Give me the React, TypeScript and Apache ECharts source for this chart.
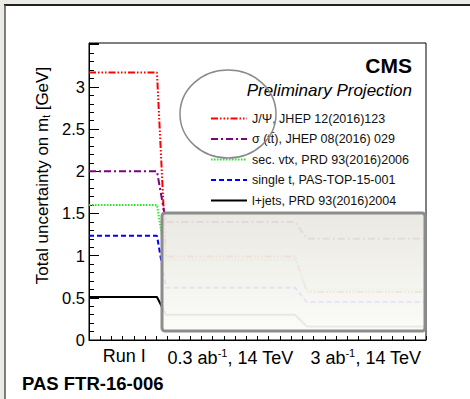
import React, { useEffect, useRef } from "react";
import * as echarts from "echarts";

const stageLabels = ["Run I", "0.3 ab^{-1}, 14 TeV", "3 ab^{-1}, 14 TeV"];
const seriesNames = [
  "J/Ψ, JHEP 12(2016)123",
  "σ (tt̄), JHEP 08(2016) 029",
  "sec. vtx, PRD 93(2016)2006",
  "single t, PAS-TOP-15-001",
  "l+jets, PRD 93(2016)2004",
];
const jpsi = [3.17, 0.99, 0.57];
const sigmaTT = [2.0, 1.4, 1.2];
const secVtx = [1.6, 0.95, 0.6];
const singleT = [1.235, 0.62, 0.45];
const lJets = [0.51, 0.3, 0.16];
const yTicks = [0, 0.5, 1, 1.5, 2, 2.5, 3];

const FONT = "Liberation Sans, Arial, Helvetica, sans-serif";
const STEP1 = [0.605, 0.685];
const STEP2 = [1.834, 1.94];
const colors = ["#ff0000", "#800080", "#22ee22", "#0000ff", "#000000"];
const dashes: any[] = [[7, 2, 1.5, 2, 1.5, 2, 1.5, 2], [7, 3, 2, 3], [1.5, 1.5], [5, 3], "solid"];

function stepData(v: number[]) {
  return [
    [0, v[0]],
    [STEP1[0], v[0]],
    [STEP1[1], v[1]],
    [STEP2[0], v[1]],
    [STEP2[1], v[2]],
    [3, v[2]],
  ];
}

function richLabel(s: string) {
  return "{t|" + s.replace(/\^\{([^}]*)\}/g, "}{sup|$1}{t|") + "}";
}

export default function App() {
  const ref = useRef<HTMLDivElement>(null);
  useEffect(() => {
    const chart = echarts.init(ref.current!, null, { renderer: "svg" });
    const values = [jpsi, sigmaTT, secVtx, singleT, lJets];
    const shifts = [42, 54, 8];
    chart.setOption({
      animation: false,
      backgroundColor: "#ebeae4",
      textStyle: { fontFamily: FONT },
      grid: { left: 89, top: 43, width: 337, height: 297, show: true, borderColor: "#000", borderWidth: 1, backgroundColor: "transparent", z: 1 },
      legend: {
        orient: "vertical",
        left: 205,
        top: 107,
        itemWidth: 36,
        itemHeight: 10,
        itemGap: 7.5,
        itemStyle: { opacity: 0, borderWidth: 0 },
        textStyle: { fontSize: 12.5, color: "#111", fontFamily: FONT },
        data: seriesNames,
        z: 20,
      },
      xAxis: [
        {
          type: "value",
          min: 0,
          max: 3,
          interval: 0.1,
          axisLine: { lineStyle: { color: "#000", width: 1 } },
          axisTick: { inside: true, length: 4, lineStyle: { color: "#000" } },
          axisLabel: { show: false },
          splitLine: { show: false },
        },
        {
          type: "category",
          data: stageLabels,
          position: "bottom",
          boundaryGap: true,
          axisLine: { show: false },
          axisTick: { show: false },
          axisLabel: {
            interval: 0,
            margin: 7,
            hideOverlap: false,
            formatter: (v: string, i: number) => `${richLabel(v)}{s${i}| }`,
            rich: {
              t: { fontSize: 18, color: "#000", fontFamily: FONT },
              sup: { fontSize: 11, color: "#000", fontFamily: FONT, padding: [0, 0, 10, 0] },
              s0: { width: shifts[0], fontSize: 18 },
              s1: { width: shifts[1], fontSize: 18 },
              s2: { width: shifts[2], fontSize: 18 },
            },
          },
        },
      ],
      yAxis: {
        type: "value",
        min: 0,
        max: 3.52,
        interval: 0.5,
        axisLine: { show: true, lineStyle: { color: "#000", width: 1 } },
        axisTick: { show: true, inside: true, length: 10, lineStyle: { color: "#000" } },
        minorTick: { show: true, splitNumber: 5, length: 5, lineStyle: { color: "#000" } },
        splitLine: { show: false },
        axisLabel: {
          fontSize: 16.5,
          color: "#000",
          margin: 4,
          formatter: (v: number) => (yTicks.includes(v) ? String(v) : ""),
        },
        name: "Total uncertainty on m{sub|t} [GeV]",
        nameLocation: "middle",
        nameRotate: 90,
        nameGap: 38,
        nameTextStyle: {
          fontSize: 17,
          color: "#000",
          fontFamily: FONT,
          padding: [0, 0, 0, 32],
          rich: { sub: { fontSize: 10, color: "#000", padding: [7, 0, 0, 0] } },
        },
      },
      series: values.map((v, i) => ({
        name: seriesNames[i],
        type: "line",
        xAxisIndex: 0,
        data: stepData(v),
        showSymbol: false,
        symbol: "none",
        z: 2,
        color: colors[i],
        lineStyle: { color: colors[i], width: 2, type: dashes[i] },
      })),
      graphic: [
        { type: "rect", z: -5, shape: { x: 5, y: 5, width: 470, height: 394 }, style: { fill: "#ffffff" } },
        { type: "line", z: -4, shape: { x1: 4, y1: 5, x2: 470, y2: 5 }, style: { stroke: "#222", lineWidth: 2 } },
        { type: "line", z: -4, shape: { x1: 5, y1: 5, x2: 5, y2: 399 }, style: { stroke: "#555", lineWidth: 1.5 } },
        {
          type: "text",
          z: 30,
          x: 412,
          y: 65,
          style: { text: "CMS", font: `bold 21px ${FONT}`, fill: "#000", textAlign: "right", textVerticalAlign: "middle" },
        },
        {
          type: "text",
          z: 30,
          x: 412,
          y: 90,
          style: { text: "Preliminary Projection", font: `italic 17px ${FONT}`, fill: "#000", textAlign: "right", textVerticalAlign: "middle" },
        },
        {
          type: "text",
          z: 30,
          x: 22,
          y: 383,
          style: { text: "PAS FTR-16-006", font: `bold 18.5px ${FONT}`, fill: "#000", textAlign: "left", textVerticalAlign: "middle" },
        },
        {
          type: "ellipse",
          z: 40,
          shape: { cx: 228, cy: 114, rx: 48, ry: 44 },
          style: { fill: "none", stroke: "#8a8a8a", lineWidth: 1.5 },
        },
        {
          type: "rect",
          z: 40,
          shape: { x: 162, y: 213, width: 263, height: 118, r: 3 },
          style: {
            fill: new echarts.graphic.LinearGradient(0, 0, 0, 1, [
              { offset: 0, color: "rgba(232,231,224,0.93)" },
              { offset: 1, color: "rgba(251,251,248,0.93)" },
            ]),
            stroke: "#8c8c8c",
            lineWidth: 3,
          },
        },
      ],
    });
    return () => chart.dispose();
  }, []);
  return <div ref={ref} style={{ position: "absolute", left: 0, top: 0, width: 470, height: 399 }} />;
}
